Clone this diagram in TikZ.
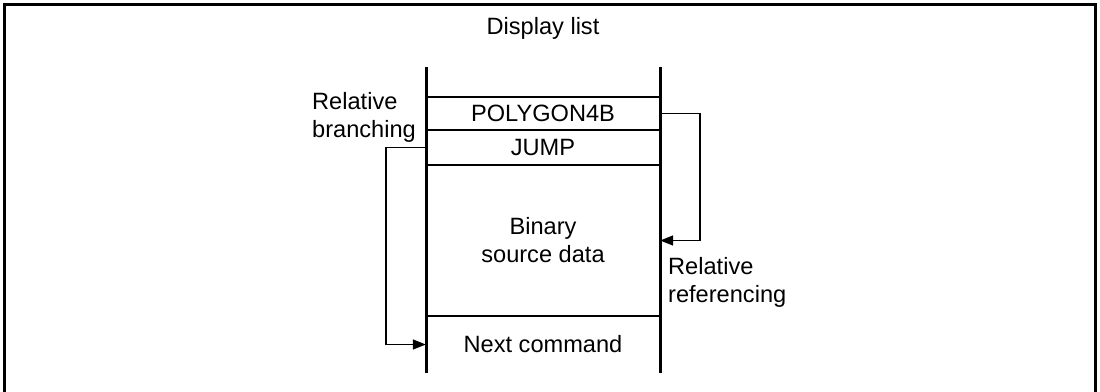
\documentclass[tikz,border=0pt]{standalone}
\usepackage{fontspec}
\setmainfont{Liberation Sans}
\usetikzlibrary{arrows.meta}
\begin{document}
\begin{tikzpicture}[x=1pt,y=-1pt,
  txt/.style={font=\fontsize{23.6}{28}\selectfont, inner sep=0pt, align=center},
  cell/.style={txt, minimum width=234pt, draw=none},
  rail/.style={line width=3pt},
  sep/.style={line width=2pt},
  conn/.style={line width=1.6pt, -{Triangle[length=13pt,width=10pt]}},
  frame/.style={line width=3pt}]
\useasboundingbox (0,0) rectangle (1100,391);
\draw[frame] (4,395) -- (4,4) -- (1095,4) -- (1095,395);
% rails
\coordinate (lt) at (426,67); \coordinate (lb) at (426,373);
\coordinate (rt) at (660,67); \coordinate (rb) at (660,373);
\draw[rail] (lt) -- (lb);
\draw[rail] (rt) -- (rb);
% separators
\foreach \y in {97,130,165,316} \draw[sep] (426,\y) -- (660,\y);
% cells
\node[txt] (title) at (543,28) {Display list};
\node[cell, minimum height=33pt] (poly) at (543,113.5) {POLYGON4B};
\node[cell, minimum height=35pt] (jump) at (543,147.5) {JUMP};
\node[cell, minimum height=151pt] (binary) at (543,240.5) {Binary\\source data};
\node[cell, minimum height=57pt] (next) at (543,344.5) {Next command};
% labels
\node[txt, align=left, anchor=west] (rbr) at (312,117.5) {Relative\\branching};
\node[txt, align=left, anchor=west] (rref) at (668,282.5) {Relative\\referencing};
% connectors
\coordinate (bx) at (386,0);
\coordinate (rx) at (700,0);
\draw[conn] (jump.west) -- (bx |- jump.west) -- (bx |- next.west) -- (next.west);
\draw[conn] (poly.east) -- (rx |- poly.east) -- (rx |- binary.east) -- (binary.east);
\end{tikzpicture}
\end{document}
